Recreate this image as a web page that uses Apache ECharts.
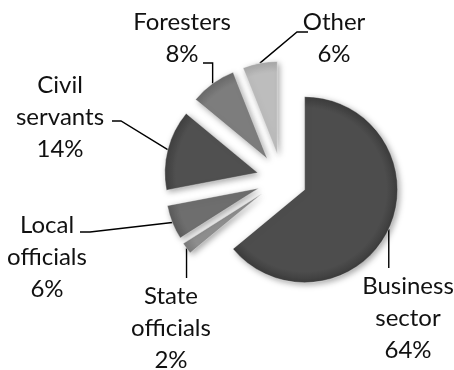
<!DOCTYPE html>
<html>
<head>
<meta charset="utf-8">
<script src="https://cdn.jsdelivr.net/npm/echarts@6/dist/echarts.min.js"></script>
<style>
    html, body { margin: 0; background: #fff; }
    #chart { width: 454px; height: 370px; }
</style>
</head>
<body>
<div id="chart"></div>
<script>
// data
var categories = ['Business\nsector', 'State\nofficials', 'Local\nofficials', 'Civil\nservants', 'Foresters', 'Other'];
var values = [64, 2, 6, 14, 8, 6];

// styles / layout
var colors = ['#4d4d4d', '#8f8f8f', '#6e6e6e', '#505050', '#7d7d7d', '#bdbdbd'];
var edgeColors = ['#3c3c3c', '#7a7a7a', '#5c5c5c', '#404040', '#6a6a6a', '#a8a8a8'];
var labelPos = [[408, 318], [171, 328], [47, 257], [60, 117], [182, 38], [334, 38]];
// leader line: v = vertical from the slice to the label (dy from label centre),
// otherwise elbow at (ex, dy) and end at (dx, dy) relative to label centre
var leaders = [
    { v: true, dy: -50 },
    { v: true, dy: -50 },
    { ex: 43, dx: 33, dy: -25 },
    { ex: 61, dx: 52, dy: 4 },
    { v: true, dy: 25, dx: 21 },
    { ex: -37, dx: -26, dy: -6 }
];
var cx = 282, cy = 179, radius = 93, explode = 25;

(function () {
    var myChart = echarts.init(document.getElementById('chart'));

    var total = values.reduce(function (a, b) { return a + b; }, 0);
    var series = [];
    var acc = 0;

    // 每个扇区单独一个系列，用来模拟“分离”的效果
    values.forEach(function (v, i) {
        var mid = (acc + v / 2) / total * 2 * Math.PI;
        acc += v;
        var ox = Math.sin(mid) * explode;
        var oy = -Math.cos(mid) * explode;
        var pcx = cx + ox, pcy = cy + oy;

        // 边缘稍暗，模拟立体感
        var fill = new echarts.graphic.RadialGradient(pcx, pcy, radius, [
            { offset: 0, color: colors[i] },
            { offset: 0.88, color: colors[i] },
            { offset: 1, color: edgeColors[i] }
        ], true);

        series.push({
            type: 'pie',
            radius: radius,
            center: [pcx, pcy],
            startAngle: 90,
            clockwise: true,
            animation: false,
            silent: true,
            avoidLabelOverlap: false,
            label: {
                formatter: '{b}\n{d}%',
                fontFamily: 'Lato',
                fontSize: 24,
                lineHeight: 32,
                color: '#111'
            },
            labelLine: {
                length: 10,
                length2: 8,
                lineStyle: { color: '#000', width: 1.4 }
            },
            labelLayout: function (p) {
                if (p.dataIndex !== i) return {};
                var lx = labelPos[i][0], ly = labelPos[i][1];
                var g = leaders[i];
                var p0 = p.labelLinePoints[0];
                var pts;
                if (g.v && g.dx != null) {
                    pts = [p0, [p0[0], ly + g.dy], [lx + g.dx, ly + g.dy]];
                } else if (g.v) {
                    pts = [p0, [p0[0], ly + g.dy]];
                } else {
                    pts = [p0, [lx + g.ex, ly + g.dy], [lx + g.dx, ly + g.dy]];
                }
                return {
                    x: lx,
                    y: ly,
                    align: 'center',
                    verticalAlign: 'middle',
                    labelLinePoints: pts
                };
            },
            data: categories.map(function (c, j) {
                var on = j === i;
                return {
                    name: c,
                    value: values[j],
                    itemStyle: on ? {
                        color: fill,
                        borderColor: 'rgba(255,255,255,0.35)',
                        borderWidth: 1,
                        shadowBlur: 6,
                        shadowOffsetX: 2,
                        shadowOffsetY: 2,
                        shadowColor: 'rgba(0,0,0,0.35)'
                    } : { color: 'rgba(0,0,0,0)' },
                    label: { show: on },
                    labelLine: { show: on }
                };
            })
        });
    });

    myChart.setOption({ series: series });

    window.addEventListener('resize', function () {
        myChart.resize();
    });
})();
</script>
</body>
</html>
